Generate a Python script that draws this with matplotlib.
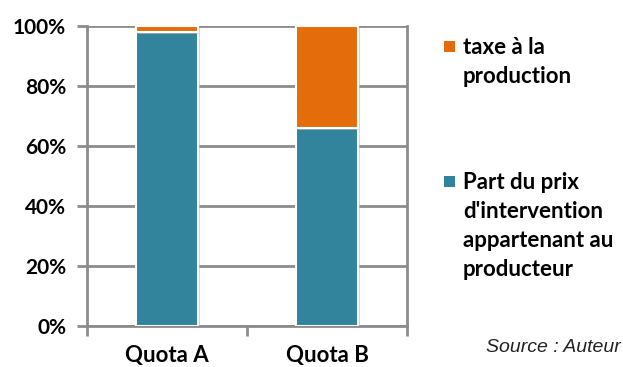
import matplotlib.pyplot as plt
import matplotlib.patheffects as pe
from matplotlib.patches import Rectangle
import numpy as np

categories = ['Quota A', 'Quota B']
part_producteur = [98, 66]   # % of intervention price kept by the producer
taxe_production = [2, 34]    # % taken by the production levy
yticks = [0, 20, 40, 60, 80, 100]
legend_labels = ['taxe à la\nproduction',
                 "Part du prix\nd'intervention\nappartenant au\nproducteur"]

teal = '#31849B'
orange = '#E46C0A'
grid_col = '#8C8C8C'

plt.rcParams['font.family'] = ['Lato', 'DejaVu Sans']
plt.rcParams['font.weight'] = 'bold'

W, H = 623, 367
fig = plt.figure(figsize=(W / 100, H / 100), dpi=100)
ax = fig.add_axes([87 / W, 41 / H, 320 / W, 300 / H])

x = np.arange(len(categories))
shadow = [pe.SimplePatchShadow(offset=(1.5, -1.5), shadow_rgbFace='#bbbbbb', alpha=0.6), pe.Normal()]
b1 = ax.bar(x, part_producteur, width=0.39, color=teal, edgecolor='white', linewidth=1.5,
            zorder=3, path_effects=shadow)
b2 = ax.bar(x, taxe_production, width=0.39, bottom=part_producteur, color=orange,
            edgecolor='white', linewidth=1.5, zorder=3, path_effects=shadow)

ax.set_xlim(-0.5, 1.5)
ax.set_ylim(0, 100)
ax.set_yticks(yticks)
ax.set_yticklabels([f'{v}%' for v in yticks], fontsize=15, fontweight='bold')
ax.yaxis.grid(True, color=grid_col, linewidth=2)
ax.set_axisbelow(True)

# category boundaries carry the x tick marks, labels sit under the bars
ax.set_xticks([-0.5, 0.5, 1.5])
ax.set_xticklabels([])
ax.set_xticks(x, minor=True)
ax.set_xticklabels(categories, minor=True, fontsize=16, fontweight='bold')
ax.tick_params(axis='x', which='minor', length=0, pad=14)
ax.tick_params(axis='x', which='major', length=7, width=2, color=grid_col)
ax.tick_params(axis='y', length=7, width=2, color=grid_col, pad=8)

for s in ['left', 'right', 'bottom', 'top']:
    ax.spines[s].set_color(grid_col)
    ax.spines[s].set_linewidth(2)
ax.spines['top'].set_visible(False)

# legend: square marker level with the first line of each label
for lab, col, ytop in zip(legend_labels, [orange, teal], [37, 172]):
    fig.patches.append(Rectangle((444 / W, 1 - (ytop + 15) / H), 11 / W, 11 / H,
                                 transform=fig.transFigure, facecolor=col, edgecolor='none'))
    fig.text(463 / W, 1 - ytop / H, lab, fontsize=16, fontweight='bold',
             va='top', ha='left', linespacing=1.48)

fig.text(486 / W, 15 / H, 'Source : Auteur', fontsize=14, style='italic', fontweight='normal',
         family='Liberation Sans', color='#222222', va='baseline')

fig.savefig('out.png', dpi=100)
